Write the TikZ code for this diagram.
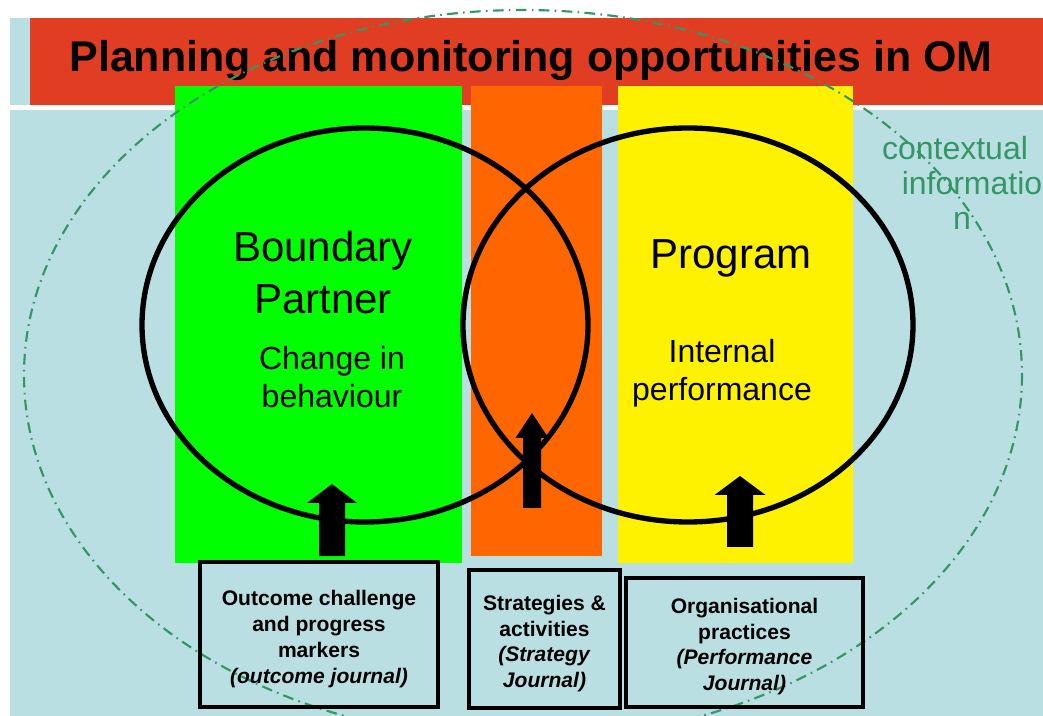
\documentclass[tikz,border=0pt]{standalone}
\usepackage{fontspec}
\setmainfont{Liberation Sans}
\definecolor{skyblue}{RGB}{186,223,226}
\definecolor{titlered}{RGB}{224,61,35}
\definecolor{midorange}{RGB}{255,102,0}
\definecolor{ctxgreen}{RGB}{51,150,100}
\begin{document}
\begin{tikzpicture}[x=0.75pt, y=-0.75pt,
  ring/.style={draw=black, line width=4pt},
  bigtext/.style={align=center, font=\fontsize{31.5}{39}\selectfont},
  midtext/.style={align=center, font=\fontsize{24}{28.5}\selectfont},
  journalbox/.style={draw=black, line width=2.6pt},
  journal/.style={align=center, inner sep=0pt,
    font=\fontsize{15.8}{19.3}\selectfont\bfseries}]
  \useasboundingbox (0,0) rectangle (1043,716);
  % Background and title
  \fill[skyblue] (10,18) rectangle (30,105);
  \fill[skyblue] (10,110) rectangle (1043,716);
  \fill[titlered] (30,18) rectangle (1043,105);
  \node[font=\fontsize{32.2}{36}\selectfont\bfseries] (title) at (531,60)
    {Planning and monitoring opportunities in OM};
  % Columns
  \fill[green] (175,86) rectangle (462,563);
  \fill[midorange] (471,86) rectangle (602,556);
  \fill[yellow] (618,86) rectangle (853,563);
  % Context
  \draw[ctxgreen, line width=1.6pt, dash pattern=on 8pt off 4pt on 1.2pt off 4pt]
    (523,375) ellipse [x radius=499, y radius=365];
  \node[align=center, text=ctxgreen, font=\fontsize{24}{26}\selectfont] (context)
    at (955,183) {contextual\\\hspace*{25.5pt}informatio\\\hspace*{10.5pt}n};
  % Circles
  \draw[ring] (365,325) ellipse [x radius=223, y radius=197];
  \draw[ring] (688,325) ellipse [x radius=225, y radius=197];
  % Labels
  \node[bigtext] (partner) at (323,272) {Boundary\\Partner};
  \node[midtext] (change) at (332,377) {Change in\\behaviour};
  \node[bigtext] (program) at (731,258) {Program};
  \node[midtext] (internal) at (722,373) {Internal\\performance};
  % Arrows
  \foreach \c/\s/\h/\b/\m/\t in {332/13/25/556/503/484, 532/9/16.5/508/438/413, 740/13/25.5/547/495/476}
    \fill[black] (\c-\s,\b) -- (\c-\s,\m) -- (\c-\h,\m) -- (\c,\t) -- (\c+\h,\m)
      -- (\c+\s,\m) -- (\c+\s,\b) -- cycle;
  % Journals
  \draw[journalbox] (200,562) rectangle (438,707);
  \draw[journalbox] (469,570) rectangle (620,708);
  \draw[journalbox] (626,578) rectangle (863,707);
  \node[journal] (outcome) at (319,639)
    {Outcome challenge\\and progress\\markers\\\textit{(outcome journal)}};
  \node[journal] (strategy) at (544.5,643.5)
    {Strategies \&\\activities\\\textit{(Strategy}\\\textit{Journal)}};
  \node[journal] (performance) at (744.5,646.5)
    {Organisational\\practices\\\textit{(Performance}\\\textit{Journal)}};
\end{tikzpicture}
\end{document}
